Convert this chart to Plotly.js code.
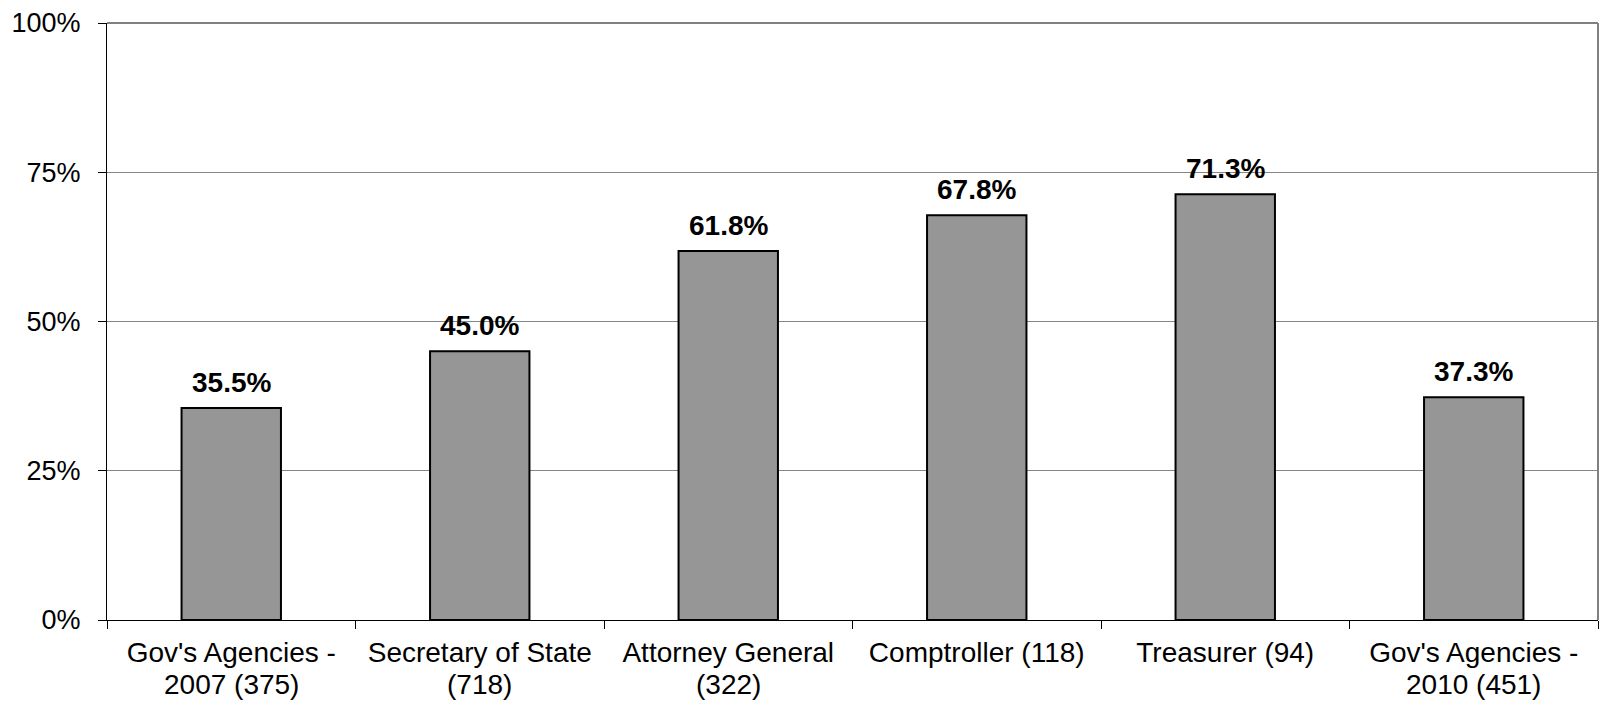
<!DOCTYPE html>
<html>
<head>
<meta charset="utf-8">
<script src="https://cdn.plot.ly/plotly-3.0.1.min.js"></script>
<style>html,body{margin:0;padding:0;background:#fff;}#chart{width:1599px;height:702px;}</style>
</head>
<body>
<div id="chart"></div>
<script>
const labelLine1 = ["Gov's Agencies -", "Secretary of State", "Attorney General", "Comptroller (118)", "Treasurer (94)", "Gov's Agencies -"];
const labelLine2 = ["2007 (375)", "(718)", "(322)", "", "", "2010 (451)"];
const categories = labelLine1.map((l, i) => l + (labelLine2[i] ? ' ' + labelLine2[i] : ''));
const values = [35.5, 45.0, 61.8, 67.8, 71.3, 37.3];
const yTicks = [0, 25, 50, 75, 100];

const FONT = 'Liberation Sans, Arial, sans-serif';

const trace = {
  type: 'bar',
  x: categories,
  y: values,
  width: 0.4,
  marker: {color: '#969696', line: {color: '#000000', width: 2}},
  hoverinfo: 'none'
};

const valueLabels = categories.map((c, i) => ({
  x: c, y: values[i], xref: 'x', yref: 'y',
  text: values[i].toFixed(1) + '%',
  showarrow: false, yanchor: 'middle', yshift: 26,
  font: {family: FONT, size: 28, color: '#000', weight: 'bold'}
}));

const secondLines = categories.map((c, i) => ({
  x: c, y: 0, xref: 'x', yref: 'paper',
  text: labelLine2[i],
  showarrow: false, yanchor: 'middle', yshift: -64,
  font: {family: FONT, size: 28, color: '#000'}
})).filter(a => a.text);

const layout = {
  width: 1599, height: 702,
  margin: {l: 107, r: 1, t: 23, b: 82},
  paper_bgcolor: '#fff', plot_bgcolor: '#fff',
  showlegend: false,
  font: {family: FONT, size: 27, color: '#000'},
  xaxis: {
    type: 'category',
    tickmode: 'array',
    tickvals: categories,
    ticktext: labelLine1,
    tickson: 'boundaries',
    ticks: 'outside', ticklen: 8, tickcolor: '#000', tickwidth: 1,
    showline: true, linecolor: '#000', linewidth: 1,
    showgrid: false, zeroline: false,
    tickfont: {family: FONT, size: 28, color: '#000'},
    ticklabelstandoff: 7
  },
  yaxis: {
    range: [0, 100],
    tickvals: yTicks,
    ticktext: yTicks.map(v => v + '%'),
    ticks: 'outside', ticklen: 8, tickcolor: '#000', tickwidth: 1,
    showline: true, linecolor: '#000', linewidth: 1,
    showgrid: true, gridcolor: '#868686', gridwidth: 1,
    zeroline: false,
    tickfont: {family: FONT, size: 27, color: '#000'},
    ticklabelstandoff: 12
  },
  shapes: [
    {type: 'line', xref: 'paper', yref: 'paper', x0: 0, x1: 1, y0: 1, y1: 1, line: {color: '#808080', width: 2}, layer: 'below'},
    {type: 'line', xref: 'paper', yref: 'paper', x0: 1, x1: 1, y0: 0, y1: 1, line: {color: '#808080', width: 2}, layer: 'below'}
  ],
  annotations: valueLabels.concat(secondLines)
};

Plotly.newPlot('chart', [trace], layout, {displayModeBar: false, staticPlot: true});
</script>
</body>
</html>
